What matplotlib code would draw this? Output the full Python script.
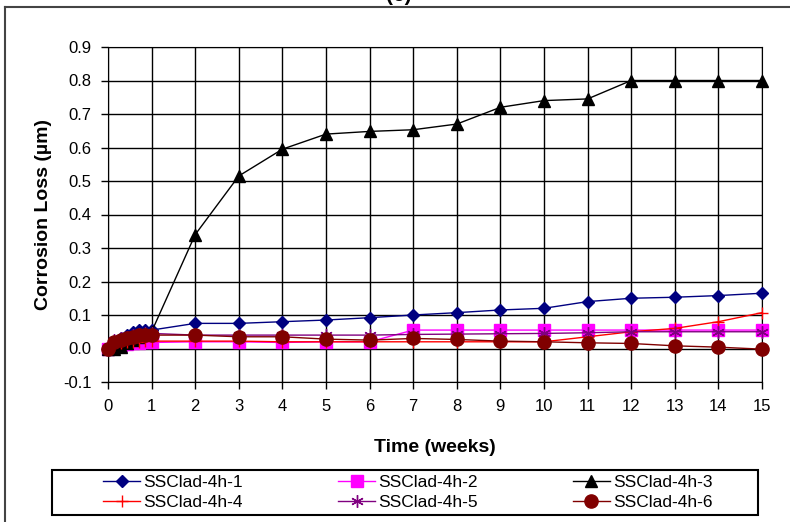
import matplotlib.pyplot as plt
from matplotlib.lines import Line2D
from matplotlib.patches import Rectangle
from matplotlib.ticker import FormatStrFormatter

plt.rcParams['font.family'] = ['Liberation Sans', 'DejaVu Sans']

# time in weeks (daily readings during first week)
weeks = [0, 0.14, 0.29, 0.43, 0.57, 0.71, 0.86, 1, 2, 3, 4, 5, 6, 7, 8, 9, 10, 11, 12, 13, 14, 15]

ss1 = [0, 0.02, 0.03, 0.04, 0.05, 0.055, 0.055, 0.055, 0.075, 0.075, 0.08, 0.085, 0.092,
       0.10, 0.107, 0.115, 0.12, 0.14, 0.15, 0.153, 0.158, 0.165]
ss2 = [0, 0.005, 0.01, 0.012, 0.015, 0.015, 0.018, 0.018, 0.02, 0.02, 0.018, 0.02, 0.02,
       0.055, 0.055, 0.055, 0.055, 0.055, 0.055, 0.055, 0.055, 0.055]
ss3 = [0, 0.0, 0.005, 0.015, 0.025, 0.035, 0.045, 0.05, 0.34, 0.515, 0.595, 0.64, 0.648,
       0.653, 0.67, 0.72, 0.74, 0.745, 0.80, 0.80, 0.80, 0.80]
ss4 = [0, 0.01, 0.015, 0.018, 0.02, 0.02, 0.022, 0.022, 0.022, 0.022, 0.02, 0.02, 0.02,
       0.02, 0.02, 0.02, 0.02, 0.035, 0.05, 0.06, 0.08, 0.107]
ss5 = [0, 0.025, 0.03, 0.035, 0.04, 0.042, 0.045, 0.045, 0.04, 0.04, 0.04, 0.04, 0.04,
       0.042, 0.043, 0.044, 0.045, 0.047, 0.05, 0.05, 0.05, 0.05]
ss6 = [0, 0.02, 0.025, 0.03, 0.035, 0.04, 0.04, 0.04, 0.04, 0.035, 0.035, 0.028, 0.025,
       0.03, 0.027, 0.022, 0.02, 0.017, 0.015, 0.008, 0.004, -0.002]

labels = ['SSClad-4h-1', 'SSClad-4h-2', 'SSClad-4h-3', 'SSClad-4h-4', 'SSClad-4h-5', 'SSClad-4h-6']

fig = plt.figure(figsize=(7.9, 5.22), dpi=100)
ax = fig.add_axes([108/790, 1 - 382/522, 654/790, 335/522])

styles = [
    (ss1, '#000080', 'D', 6, '#000080'),
    (ss2, '#FF00FF', 's', 8, '#FF00FF'),
    (ss3, 'black', '^', 8, 'black'),
    (ss4, '#FF0000', '+', 9, '#FF0000'),
    (ss5, '#800080', (6, 2, 0), 9, '#800080'),
    (ss6, '#800000', 'o', 9.5, '#800000'),
]
handles = []
for (vals, col, mk, ms, mc), lab in zip(styles, labels):
    h, = ax.plot(weeks, vals, color=col, marker=mk, markersize=ms, lw=1.0,
                 markerfacecolor=mc, markeredgecolor=mc, markeredgewidth=1.0,
                 label=lab, clip_on=False, zorder=3)
    handles.append(h)

ax.set_xlim(0, 15)
ax.set_ylim(-0.1, 0.9)
ax.set_xticks(range(0, 16))
ax.set_yticks([i / 10 for i in range(-1, 10)])
ax.yaxis.set_major_formatter(FormatStrFormatter('%.1f'))
ax.grid(True, color='black', lw=1.0)
ax.set_axisbelow(True)
for s in ax.spines.values():
    s.set_color('black')
ax.tick_params(direction='out', length=5, width=1, labelsize=12, colors='black', pad=7)

ax.set_xlabel('Time (weeks)', fontsize=14, fontweight='bold', labelpad=18)
ax.set_ylabel('Corrosion Loss (µm)', fontsize=14, fontweight='bold', labelpad=8)

# legend box drawn separately so the entries can sit inside with side margins
fig.add_artist(Rectangle((52/790, 1 - 515/522), 706/790, 45/522, transform=fig.transFigure,
                         fill=False, edgecolor='black', lw=1.5))
order = [0, 3, 1, 4, 2, 5]
leg = fig.legend([handles[i] for i in order], [labels[i] for i in order], ncol=3,
                 loc='center', bbox_to_anchor=(93/790, 1 - 515/522, 630/790, 45/522),
                 mode='expand', fontsize=12.5, frameon=False,
                 handlelength=2.1, handletextpad=0.2,
                 borderpad=0.1, labelspacing=0.3)

# outer chart border and clipped title
fig.add_artist(Line2D([5/790, 1], [1 - 7/522, 1 - 7/522], transform=fig.transFigure, color='#444444', lw=1.5))
fig.add_artist(Line2D([5/790, 5/790], [0, 1 - 7/522], transform=fig.transFigure, color='#444444', lw=1.5))
fig.text(399/790, 1 - 1/522, '(c)', fontsize=15, fontweight='bold', ha='center', va='baseline')

plt.savefig('out.png', dpi=100)
